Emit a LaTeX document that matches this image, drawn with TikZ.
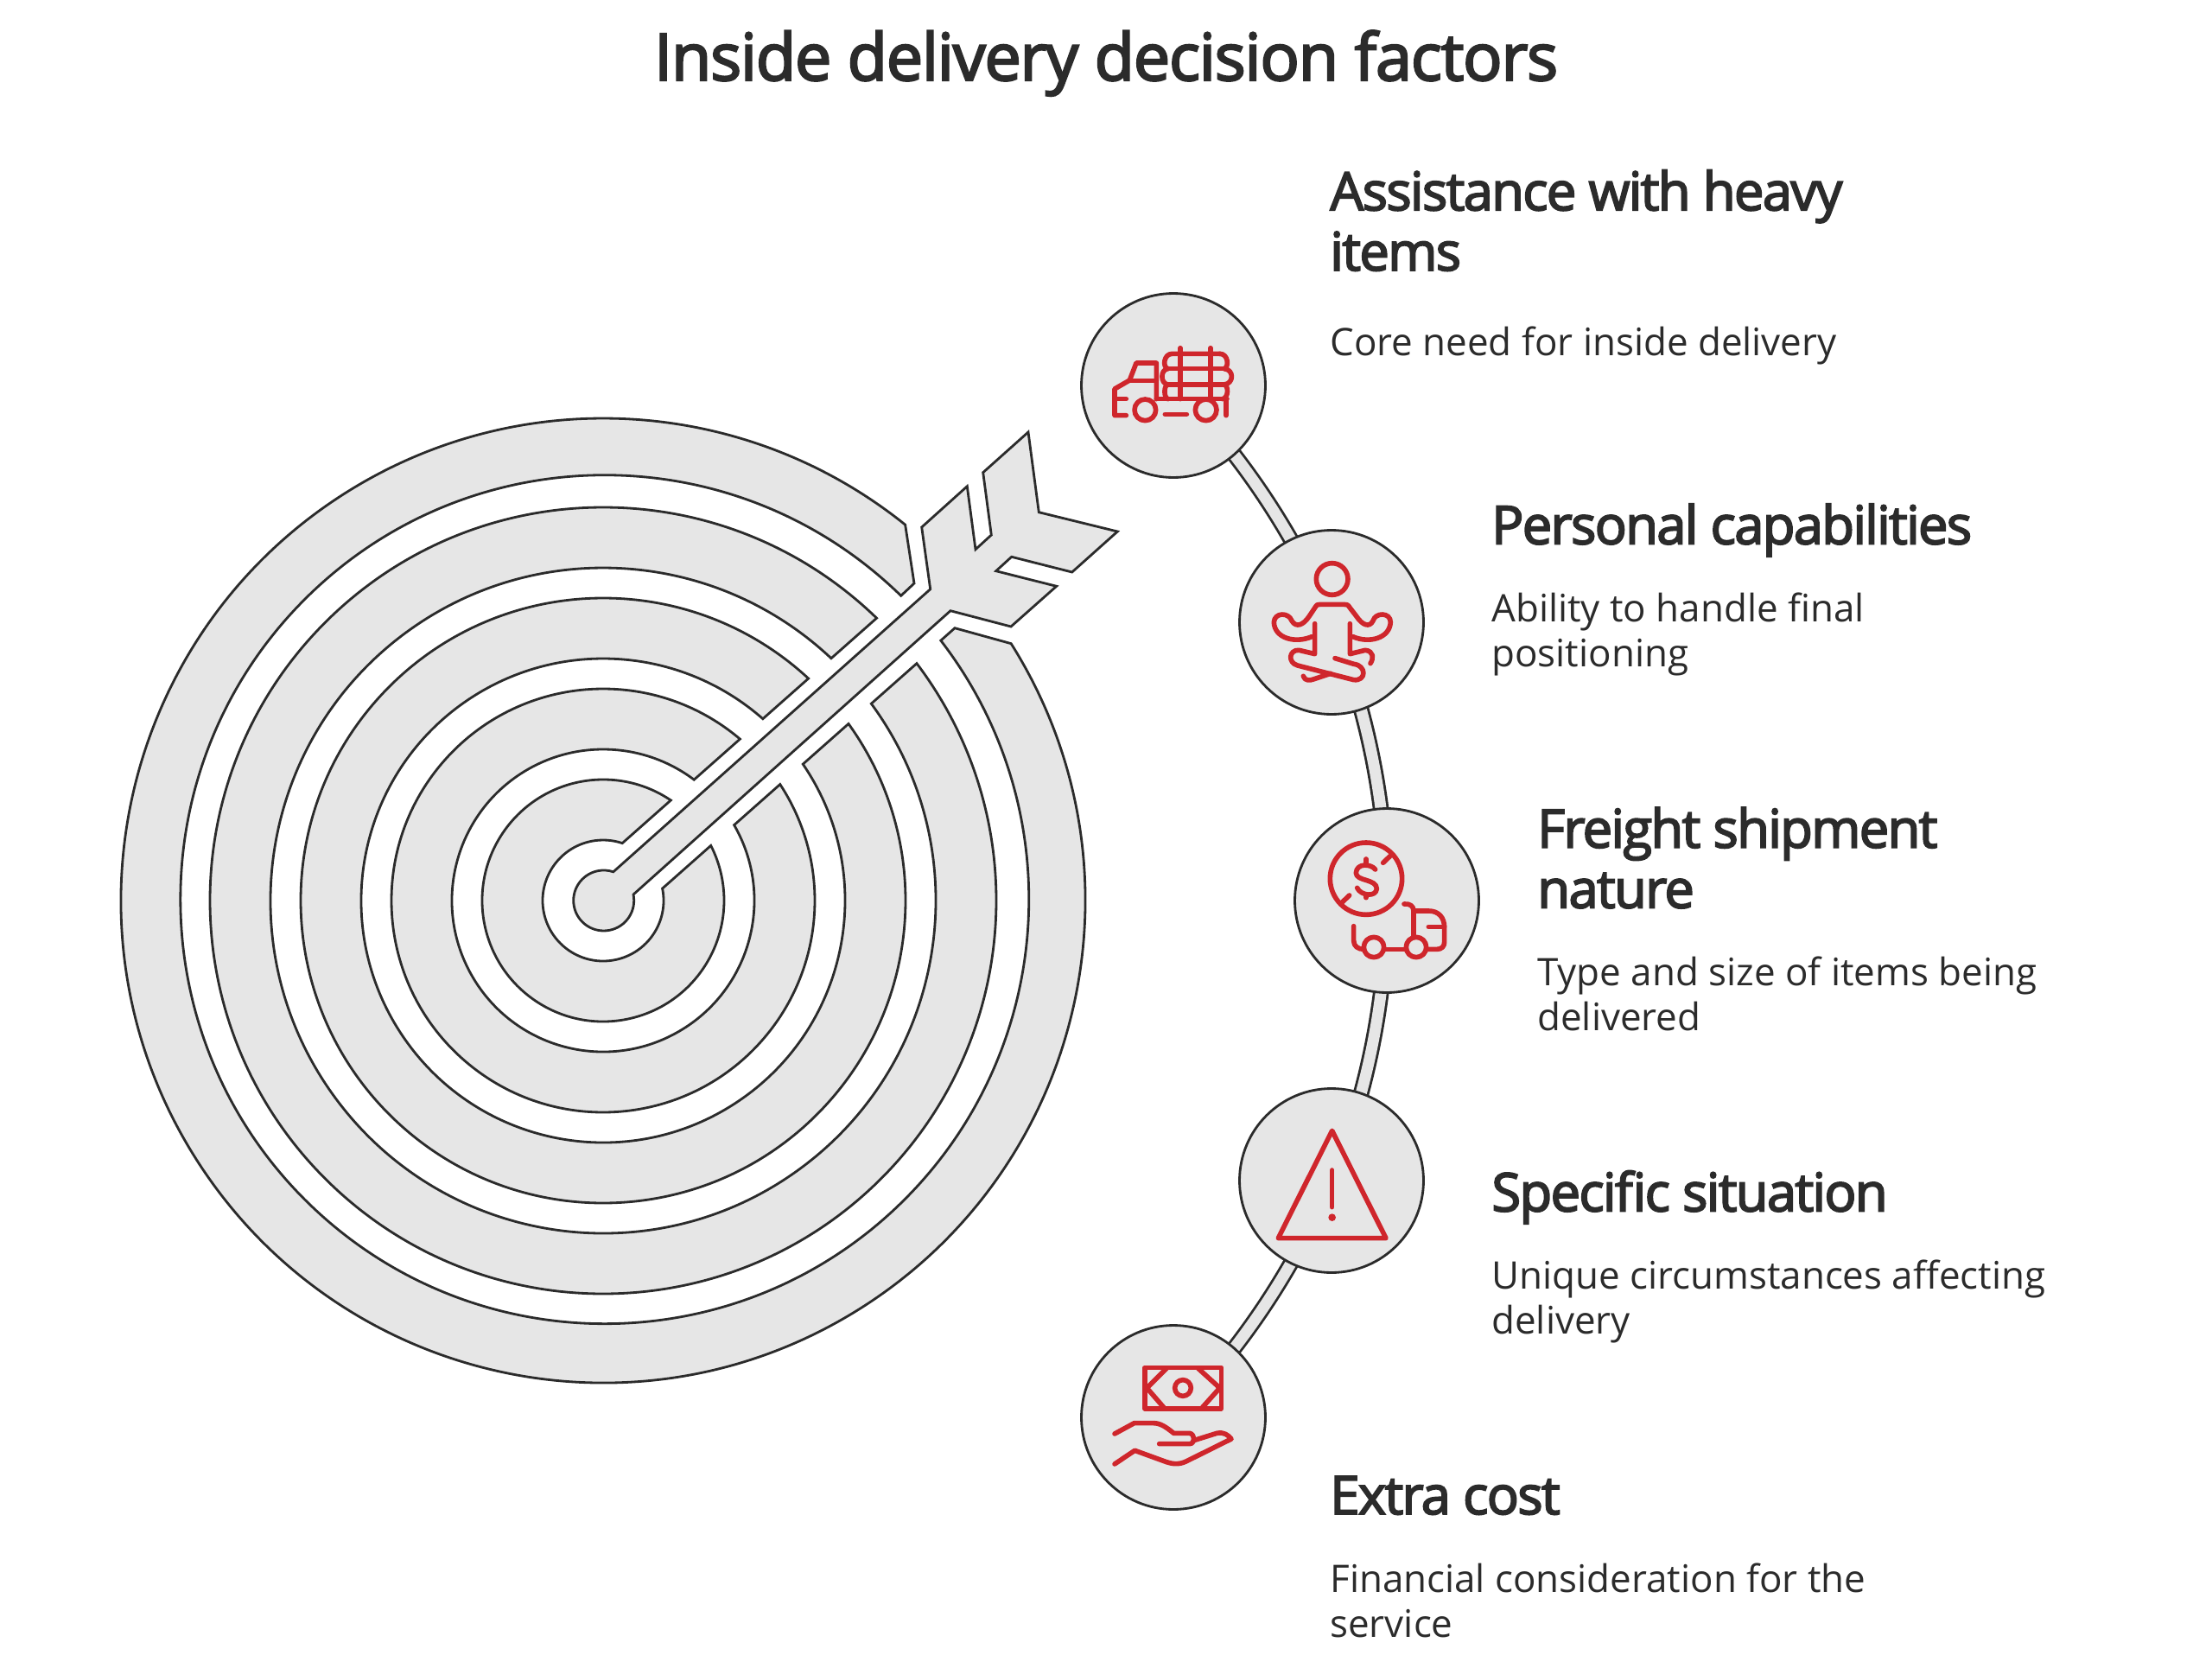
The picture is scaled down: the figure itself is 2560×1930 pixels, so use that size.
\documentclass[tikz,border=0pt]{standalone}
\usepackage{fontspec}
\setmainfont{Open Sans}
\newfontfamily\titlefont{Open Sans}[FakeBold=3,LetterSpace=-1.6]
\newfontfamily\headfont{Open Sans}[FakeBold=3,LetterSpace=-2.7]
\usetikzlibrary{positioning,backgrounds}
\definecolor{ringgray}{RGB}{230,230,230}
\definecolor{inkline}{RGB}{43,43,43}
\definecolor{iconred}{RGB}{207,38,44}
\tikzset{
  ring/.style={draw=inkline,fill=ringgray,line width=1.6pt,line join=miter},
  disc/.style={circle,draw=inkline,fill=ringgray,line width=1.6pt,minimum size=4.26cm,inner sep=0pt},
  band/.style={draw=inkline,line width=1.6pt,double=ringgray,double distance=7.4pt,bend left=11.25,looseness=0.85},
  icon/.style={draw=iconred,line width=3.2pt,line cap=round,line join=round},
  titletext/.style={inner sep=0pt,anchor=base,text=inkline,font=\fontsize{43pt}{56pt}\selectfont\titlefont},
  headtext/.style={inner sep=0pt,anchor=base west,align=left,text=inkline,font=\fontsize{35pt}{39.7pt}\selectfont\headfont},
  bodytext/.style={inner sep=0pt,anchor=base west,align=left,text=inkline,font=\fontsize{25pt}{29.5pt}\selectfont},
}
\begin{document}
\begin{tikzpicture}[x=0.02cm,y=0.02cm]
\useasboundingbox (0,0) rectangle (2560,-1930);

\node[titletext] (title) at (1280,-93) {Inside delivery decision factors};

% target rings
\begin{scope}[shift={(698,-1042)}]
\foreach \ri/\ro in {70/140,175/245,280/350,385/455} {
  \pgfmathsetmacro{\aout}{asin(35/\ro)}
  \pgfmathsetmacro{\ain}{asin(35/\ri)}
  \draw[ring] (41.5+\aout:\ro) arc[start angle=41.5+\aout,end angle=401.5-\aout,radius=\ro]
    -- (401.5-\ain:\ri) arc[start angle=401.5-\ain,end angle=41.5+\ain,radius=\ri] -- cycle;
}
% outer ring, cut round the feathers
\draw[ring] (32.2:558) arc[start angle=32.2,end angle=-308.8,radius=558] -- (360,367) -- (344.7,352.7)
  arc[start angle=-314.3,end angle=37.6,radius=491] -- (407,315.3) -- cycle;
\end{scope}

% arrow
\draw[ring] (1076.7,-681.7) -- (1066.7,-610) -- (1119.3,-562.7) -- (1129,-635.7) -- (1147.3,-619)
  -- (1137.7,-546.7) -- (1190,-500) -- (1202.3,-592.7) -- (1293.3,-615) -- (1240.7,-662)
  -- (1170.7,-644.3) -- (1152.7,-660.7) -- (1222.7,-678.3) -- (1170,-725) -- (1100,-706.7)
  -- (733,-1035) arc[start angle=11.5,end angle=-288.5,radius=35] -- cycle;

% circles on the arc
\node[disc] (truck) at (1358,-446) {};
\node[disc] (person) at (1541,-720) {};
\node[disc] (freight) at (1605,-1042) {};
\node[disc] (warning) at (1541,-1366) {};
\node[disc] (money) at (1358,-1640) {};

\begin{scope}[on background layer]
\draw[band] (truck.center) to (person.center);
\draw[band] (person.center) to (freight.center);
\draw[band] (freight.center) to (warning.center);
\draw[band] (warning.center) to (money.center);
\end{scope}

% log truck
\begin{scope}[shift={(1220,-320)},x=0.00667cm,y=-0.00667cm]
\draw[icon] (250,425) -- (210,425);
\draw[icon] (250,482) -- (210,482) -- (210,390) -- (262,360) -- (285,300) -- (355,300) -- (355,425);
\draw[icon] (262,362) -- (355,362);
\draw[icon] (316,463) circle[radius=37];
\draw[icon] (527,463) circle[radius=37];
\draw[icon] (385,478) -- (460,478);
\draw[icon] (597,425) -- (597,482);
\draw[icon] (355,425) -- (600,425);
\draw[icon] (438,248) -- (438,425);
\draw[icon] (543,248) -- (543,425);
\draw[icon] (395,320) -- (590,320) (395,375) -- (590,375);
\draw[icon] (575,268) -- (410,268) .. controls (380,268) and (375,315) .. (395,320)
  .. controls (368,322) and (368,372) .. (395,375) .. controls (380,378) and (380,420) .. (395,425);
\draw[icon] (575,268) .. controls (605,268) and (608,315) .. (590,320)
  .. controls (625,322) and (625,372) .. (590,375) .. controls (606,378) and (606,420) .. (585,425);
\end{scope}

% person
\begin{scope}[shift={(1220,-320)},x=0.00667cm,y=-0.00667cm]
\draw[icon] (965,1050) circle[radius=55];
\draw[icon] (895,1250) .. controls (835,1275) and (765,1255) .. (763,1200) .. controls (765,1165) and (815,1165) .. (825,1195)
  .. controls (840,1220) and (865,1210) .. (885,1180) -- (905,1150) .. controls (912,1138) and (915,1138) .. (925,1138)
  -- (1005,1138) .. controls (1015,1138) and (1020,1138) .. (1027,1150) -- (1050,1180)
  .. controls (1070,1210) and (1095,1220) .. (1107,1195) .. controls (1115,1165) and (1168,1165) .. (1168,1200)
  .. controls (1165,1255) and (1095,1275) .. (1037,1250);
\draw[icon] (905,1205) -- (905,1310) -- (850,1297) .. controls (815,1295) and (810,1340) .. (845,1350) -- (1040,1400)
  .. controls (1085,1405) and (1085,1350) .. (1040,1345) -- (975,1325);
\draw[icon] (1027,1205) -- (1027,1310) -- (1080,1297) .. controls (1110,1300) and (1110,1325) .. (1098,1343);
\draw[icon] (865,1387) .. controls (870,1405) and (890,1402) .. (900,1398) -- (960,1378);
\end{scope}

% dollar and van
\begin{scope}[shift={(1450,-920)},x=0.00667cm,y=-0.00667cm]
\draw[icon] (393,290) circle[radius=125];
\draw[icon] (452,235) -- (476,212);
\draw[icon] (335,348) -- (310,372);
\draw[icon] (425,258) .. controls (410,238) and (360,235) .. (358,270) .. controls (358,300) and (430,290) .. (430,325)
  .. controls (428,355) and (375,350) .. (362,322);
\draw[icon] (393,222) -- (393,240);
\draw[icon] (393,345) -- (393,356);
\draw[icon] (350,455) -- (350,505) .. controls (350,525) and (365,535) .. (385,535);
\draw[icon] (420,528) circle[radius=35];
\draw[icon] (460,535) -- (530,535);
\draw[icon] (567,528) circle[radius=35];
\draw[icon] (605,535) -- (640,535) .. controls (655,535) and (665,525) .. (665,510) -- (665,460)
  .. controls (665,425) and (645,402) .. (610,402) -- (558,402);
\draw[icon] (525,378) .. controls (545,376) and (558,385) .. (558,402) -- (558,490);
\draw[icon] (610,457) -- (665,457);
\end{scope}

% warning sign
\begin{scope}[shift={(1240,-1250)},x=0.00667cm,y=-0.00667cm]
\draw[icon] (905,175) -- (1092,548) -- (718,548) -- cycle;
\draw[icon] (905,312) -- (905,440);
\fill[iconred] (905,476) circle[radius=13];
\end{scope}

% banknote and hand
\begin{scope}[shift={(1240,-1250)},x=0.00667cm,y=-0.00667cm]
\draw[icon] (255,997) rectangle (520,1140);
\draw[icon] (330,1000) -- (262,1068) -- (320,1135);
\draw[icon] (440,1000) -- (515,1068) -- (455,1135);
\draw[icon] (387,1068) circle[radius=28];
\draw[icon] (150,1227) -- (218,1190) -- (285,1190) .. controls (310,1190) and (330,1205) .. (355,1225) -- (410,1225)
  .. controls (430,1228) and (430,1262) .. (410,1262) -- (305,1262);
\draw[icon] (425,1250) -- (505,1225) .. controls (530,1220) and (545,1232) .. (555,1245) -- (400,1322)
  .. controls (375,1335) and (350,1332) .. (330,1325) -- (220,1285) -- (150,1332);
\end{scope}

% labels
\node[headtext] (heavyhead) at (1539,-313) {Assistance with heavy\\items};
\node[bodytext] (heavybody) at (1539,-411) {Core need for inside delivery};
\node[headtext] (capabhead) at (1726,-629.5) {Personal capabilities};
\node[bodytext] (capabbody) at (1726,-771.5) {Ability to handle final\\positioning};
\node[headtext] (freighthead) at (1779,-1050.5) {Freight shipment\\nature};
\node[bodytext] (freightbody) at (1779,-1192) {Type and size of items being\\delivered};
\node[headtext] (situhead) at (1726,-1401.5) {Specific situation};
\node[bodytext] (situbody) at (1726,-1543.5) {Unique circumstances affecting\\delivery};
\node[headtext] (costhead) at (1539,-1752) {Extra cost};
\node[bodytext] (costbody) at (1539,-1894) {Financial consideration for the\\service};
\end{tikzpicture}
\end{document}
